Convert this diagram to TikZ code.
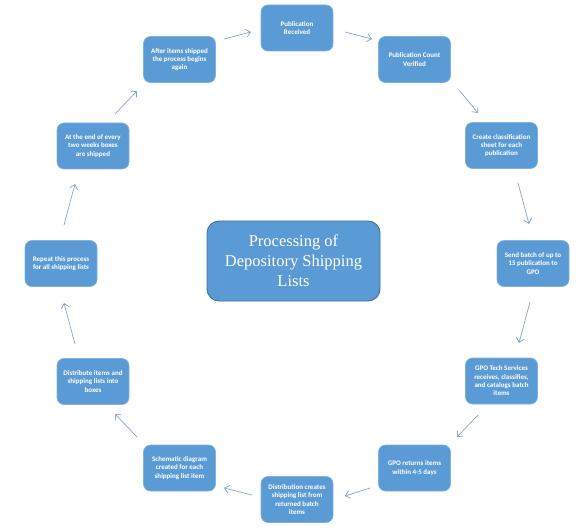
\documentclass[tikz,border=0pt]{standalone}
\usepackage{fontspec}
\setmainfont{Carlito}
\newfontfamily\titlefont{Liberation Serif}
\usetikzlibrary{arrows.meta,calc}
\definecolor{boxblue}{HTML}{5B9BD5}
\definecolor{boxedge}{HTML}{7FB2E0}
\definecolor{titleedge}{HTML}{41719C}
\definecolor{arrowcol}{HTML}{8AA2C8}
\tikzset{
  stepbox/.style={rectangle, rounded corners=7pt, fill=boxblue, draw=boxedge, line width=0.6pt,
    minimum width=72pt, minimum height=46pt, inner sep=0pt, text=white, align=center,
    font=\bfseries\fontsize{7}{8.3}\selectfont},
  titlebox/.style={rectangle, rounded corners=12pt, fill=boxblue, draw=titleedge, line width=0.9pt,
    minimum width=173pt, minimum height=80pt, inner sep=0pt, text=white, align=center,
    font=\titlefont\fontsize{16.5}{20}\selectfont},
  arr/.style={draw=arrowcol, line width=0.7pt, -{Straight Barb[length=4.5pt,width=8pt]}}
}
\begin{document}
\begin{tikzpicture}[x=1pt,y=-1pt]
\fill[white] (0,0) rectangle (581,532);
\useasboundingbox (0,0) rectangle (581,532);

\node[titlebox] (ctr) at (293.5,261) {Processing of\\Depository Shipping\\Lists};

\node[stepbox] (pub) at (297,28) {Publication\\Received};
\node[stepbox] (cnt) at (414.5,59.5) {Publication Count\\Verified};
\node[stepbox] (cls) at (501.5,145.5) {Create classification\\sheet for each\\publication};
\node[stepbox] (snd) at (533,263.5) {Send batch of up to\\15 publication to\\GPO};
\node[stepbox] (gpo) at (501.5,381) {GPO Tech Services\\receives, classifies,\\and catalogs batch\\items};
\node[stepbox] (ret) at (414.5,468) {GPO returns items\\within 4-5 days};
\node[stepbox] (dst) at (297,499.5) {Distribution creates\\shipping list from\\returned batch\\items};
\node[stepbox] (sch) at (179.5,468) {Schematic diagram\\created for each\\shipping list item};
\node[stepbox] (dbx) at (93,381.5) {Distribute items and\\shipping lists into\\boxes};
\node[stepbox] (rep) at (61,263.5) {Repeat this process\\for all shipping lists};
\node[stepbox] (eow) at (93,146) {At the end of every\\two weeks boxes\\are shipped};
\node[stepbox] (aft) at (179.5,59.5) {After items shipped\\the process begins\\again};

\draw[arr] ($(aft)+(44.5,-20.5)$) -- ($(pub)+(-46,4)$);
\draw[arr] ($(pub)+(48,4)$) -- ($(cnt)+(-42.5,-20.5)$);
\draw[arr] ($(cnt)+(44.5,30.5)$) -- ($(cls)+(-23.5,-32.5)$);
\draw[arr] ($(cls)+(16.5,37.5)$) -- ($(snd)+(-4,-39.5)$);
\draw[arr] ($(snd)+(-3,38.5)$) -- ($(gpo)+(17.5,-38)$);
\draw[arr] ($(gpo)+(-23.5,34)$) -- ($(ret)+(42.5,-31)$);
\draw[arr] ($(ret)+(-44.5,20)$) -- ($(dst)+(48,-3.5)$);
\draw[arr] ($(dst)+(-45,-4.5)$) -- ($(sch)+(44.5,20)$);
\draw[arr] ($(sch)+(-42.5,-31)$) -- ($(dbx)+(22,32.5)$);
\draw[arr] ($(dbx)+(-18,-37.5)$) -- ($(rep)+(3,39.5)$);
\draw[arr] ($(rep)+(3,-38.5)$) -- ($(eow)+(-18,38)$);
\draw[arr] ($(eow)+(22,-32)$) -- ($(aft)+(-42.5,31.5)$);
\end{tikzpicture}
\end{document}
